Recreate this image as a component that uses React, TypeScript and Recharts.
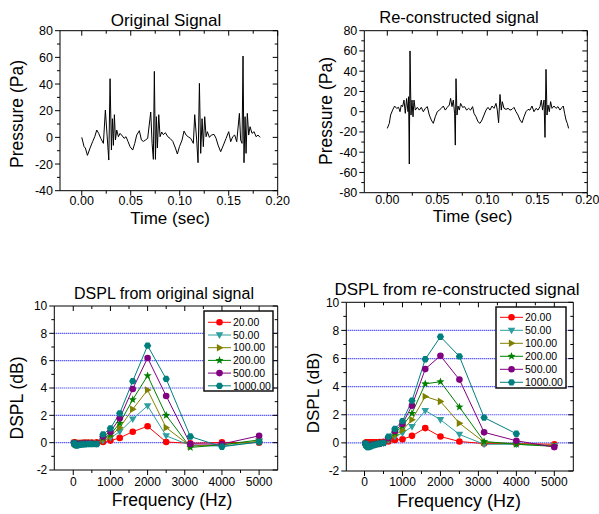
import React from "react";
import { LineChart, Line, XAxis, YAxis, ReferenceLine } from "recharts";

const FONT = "'Liberation Sans', Arial, Helvetica, sans-serif";

// ---- pressure signals
const origTime = [
  0, 0.0024, 0.0037, 0.0058, 0.0085, 0.0112, 0.0133, 0.0153, 0.0173, 0.0194,
  0.0221, 0.0241, 0.0262, 0.0276, 0.0289, 0.0303, 0.0313, 0.0323, 0.0333, 0.0344,
  0.0357, 0.0374, 0.0391, 0.0415, 0.0432, 0.0452, 0.0473, 0.0493, 0.052, 0.0541,
  0.0561, 0.0588, 0.0609, 0.0629, 0.065, 0.0673, 0.0704, 0.0718, 0.0731, 0.0741,
  0.0752, 0.0762, 0.0772, 0.0786, 0.0799, 0.0816, 0.0833, 0.0854, 0.0878, 0.0901,
  0.0929, 0.0956, 0.0976, 0.0997, 0.1024, 0.1044, 0.1065, 0.1085, 0.1112, 0.1139,
  0.1153, 0.1173, 0.1187, 0.1201, 0.1214, 0.1228, 0.1241, 0.1255, 0.1269, 0.1282,
  0.1303, 0.1323, 0.135, 0.1371, 0.1391, 0.1418, 0.1446, 0.1473, 0.15, 0.152,
  0.1541, 0.1561, 0.1582, 0.1609, 0.1622, 0.1636, 0.1646, 0.1656, 0.1667, 0.1677,
  0.169, 0.1704, 0.1718, 0.1738, 0.1759, 0.1779, 0.1799, 0.182,
];
const origPressure = [
  0, -7, -8, -13.5, -8, -3, 0.5, 5.5, 3, -0.75,
  -4.5, 20.5, -2, -17, 44, -9.5, 14, -6, 17, -2,
  5.5, 0.5, 3, 1, -0.75, 0.5, -3.25, -7, -9.5, -4.5,
  1.75, 5, -2, -3, -2, -0.75, 19, -4.5, -16.5, 49.5,
  -16.5, 15.5, -8, 17, 0.5, 4, 2, 3.5, 0.5, -0.75,
  -3, -8, -12.5, -7, -2, 4.75, 1.75, 0.5, -0.75, -4.5,
  17, -2, -19, 40.5, -12, 14, -7, 15.5, 0.5, 4.25,
  0, 1.75, 2.25, -0.75, -5.75, -10.75, -5.75, -0.75, 4.25, -3.25,
  0.5, 1.75, -3.25, 18, -2, -4.5, 61, -19, 15.5, -12,
  18, 1.75, 8, 3, 4.25, 0.5, 1.75, 0,
];

const reconTime = [
  0, 0.002, 0.0033, 0.0053, 0.0073, 0.0093, 0.0113, 0.0127, 0.014, 0.0153,
  0.0167, 0.018, 0.0193, 0.0207, 0.0213, 0.022, 0.0227, 0.0237, 0.0247, 0.0257,
  0.0267, 0.028, 0.03, 0.032, 0.034, 0.036, 0.038, 0.04, 0.042, 0.044,
  0.046, 0.048, 0.05, 0.052, 0.054, 0.056, 0.058, 0.06, 0.062, 0.0633,
  0.0647, 0.066, 0.0673, 0.068, 0.0687, 0.0697, 0.0707, 0.072, 0.0733, 0.0753,
  0.0773, 0.0793, 0.0813, 0.0833, 0.0853, 0.0867, 0.0887, 0.0907, 0.0927, 0.0947,
  0.0967, 0.0987, 0.1007, 0.1027, 0.1047, 0.1067, 0.1087, 0.11, 0.1113, 0.1127,
  0.114, 0.115, 0.1167, 0.1187, 0.1207, 0.1227, 0.1247, 0.1267, 0.1287, 0.1307,
  0.1327, 0.1347, 0.1367, 0.1387, 0.1407, 0.1427, 0.1447, 0.1467, 0.1487, 0.1507,
  0.1527, 0.154, 0.1553, 0.1567, 0.1577, 0.1587, 0.1597, 0.1607, 0.162, 0.1633,
  0.1647, 0.1667, 0.1687, 0.1707, 0.1727, 0.1747, 0.176, 0.1773, 0.1787, 0.18,
  0.1813,
];
const reconPressure = [
  -16.5, -11.5, -3.3, 1.6, 5.6, 3.3, 4.3, 0, 6.6, 5,
  11.5, -1.6, 13, 0, 14.8, -51.7, 60, -3.3, 11.5, -5,
  11.5, 1.6, 4.3, 1.6, 4.3, 0, 3.3, 5, -3.3, -8.2,
  -11.5, -5, 0, 1.6, 3.3, 5.6, 1.6, 4.3, 6.6, 13.2,
  5, 11.5, -1.6, -33, 32.6, -3.3, 5.6, 1.6, 8.2, 4.3,
  5, 1.6, 3.3, 1.6, 5, -1.6, -5, -9.9, -11.5, -8.2,
  -3.3, 1.6, 4.3, 1.6, 5.6, 3.3, 8.2, 1.6, -10.9, 17,
  1.6, 9.9, 3.3, 2.3, 3.3, 1.6, 2.3, 4.3, 0, -3.3,
  -8.2, -10.9, -5, 0, 2.3, 1.6, 5.6, 0, 3.3, 1.6,
  5, 11.5, 1.6, 11.5, -25.4, 41.8, -3.3, 6.6, 0, 9.9,
  3.3, 5.6, 3.3, 5, 1.6, 4.3, 5.6, -1.6, -8.2, -11.5,
  -16.5,
];

const timeTicks = [0, 0.05, 0.1, 0.15, 0.2];
const timeMinor = [0.025, 0.075, 0.125, 0.175];
const origPTicks = [-40, -20, 0, 20, 40, 60, 80];
const origPMinor = [-30, -10, 10, 30, 50, 70];
const reconPTicks = [-80, -60, -40, -20, 0, 20, 40, 60, 80];
const reconPMinor = [-70, -50, -30, -10, 10, 30, 50, 70];

// ---- DSPL spectra (1/3 octave bands)
const freqs = [
  25, 31.5, 40, 50, 63, 80, 100, 125, 160, 200, 250, 315, 400, 500, 630,
  800, 1000, 1250, 1600, 2000, 2500, 3150, 4000, 5000,
];
const freqTicks = [0, 1000, 2000, 3000, 4000, 5000];
const freqMinor = [500, 1500, 2500, 3500, 4500];
const dsplTicks = [-2, 0, 2, 4, 6, 8, 10];
const dsplMinor = [-1, 1, 3, 5, 7, 9];
const gridLevels = [0, 2, 4, 6, 8];

const legendLabels = ["20.00", "50.00", "100.00", "200.00", "500.00", "1000.00"];
const seriesColors = ["#ff0000", "#2f9e9e", "#808000", "#008000", "#800080", "#007f7f"];
const seriesShapes = ["circle", "down", "right", "star", "circle", "hex"];

const orig20 = [0, 0, -0.01, -0.01, -0.02, -0.02, -0.03, -0.03, -0.02, -0.02, -0.01, 0, 0, 0, 0.02, 0.05, 0.15, 0.35, 0.8, 1.2, 0.05, -0.05, 0.02, 0];
const orig50 = [-0.03, -0.05, -0.08, -0.1, -0.12, -0.13, -0.13, -0.12, -0.1, -0.09, -0.08, -0.07, -0.06, -0.06, -0.08, 0.15, 0.35, 0.8, 1.73, 2.7, 0.5, -0.2, -0.25, 0.05];
const orig100 = [-0.02, -0.04, -0.06, -0.08, -0.1, -0.11, -0.11, -0.1, -0.09, -0.08, -0.07, -0.06, -0.05, -0.05, -0.07, 0.25, 0.5, 1.1, 2.45, 3.85, 1.1, -0.25, -0.15, 0.1];
const orig200 = [-0.02, -0.04, -0.06, -0.08, -0.1, -0.11, -0.11, -0.1, -0.09, -0.08, -0.07, -0.06, -0.05, -0.05, -0.07, 0.35, 0.6, 1.42, 3.15, 4.9, 2.0, -0.35, -0.15, 0.2];
const orig500 = [-0.03, -0.05, -0.07, -0.09, -0.11, -0.12, -0.12, -0.11, -0.1, -0.09, -0.08, -0.07, -0.06, -0.06, -0.08, 0.45, 0.8, 1.78, 3.93, 6.2, 3.42, -0.1, -0.1, 0.5];
const orig1000 = [-0.05, -0.08, -0.12, -0.15, -0.18, -0.2, -0.2, -0.18, -0.16, -0.15, -0.13, -0.12, -0.11, -0.1, -0.1, 0.6, 1.05, 2.15, 4.5, 7.1, 4.66, 0.45, -0.3, 0.05];

const recon20 = [0, 0, 0.01, 0.01, 0.02, 0.02, 0.03, 0.03, 0.04, 0.04, 0.05, 0.05, 0.06, 0.07, 0.1, 0.2, 0.25, 0.5, 1.05, 0.45, 0.1, -0.05, -0.05, -0.1];
const recon50 = [-0.05, -0.08, -0.12, -0.15, -0.18, -0.2, -0.22, -0.2, -0.18, -0.15, -0.12, -0.1, -0.06, -0.02, 0.2, 0.45, 0.7, 1.15, 2.3, 1.65, 0.6, -0.1, -0.1, -0.2];
const recon100 = [-0.04, -0.07, -0.1, -0.13, -0.16, -0.18, -0.2, -0.18, -0.16, -0.13, -0.1, -0.08, -0.05, -0.01, 0.25, 0.55, 0.9, 1.65, 3.3, 2.95, 1.4, 0.05, -0.05, -0.2];
const recon200 = [-0.04, -0.07, -0.1, -0.13, -0.16, -0.18, -0.2, -0.18, -0.16, -0.13, -0.1, -0.08, -0.05, -0.01, 0.3, 0.7, 1.2, 2.1, 4.2, 4.35, 2.55, 0.1, -0.1, -0.25];
const recon500 = [-0.05, -0.08, -0.11, -0.14, -0.17, -0.2, -0.22, -0.2, -0.17, -0.14, -0.11, -0.08, -0.05, 0, 0.35, 0.85, 1.35, 2.65, 5.25, 6.2, 4.5, 0.75, 0.15, -0.3];
const recon1000 = [-0.05, -0.1, -0.15, -0.2, -0.25, -0.3, -0.3, -0.28, -0.25, -0.2, -0.15, -0.1, -0.05, 0, 0.45, 1.0, 1.55, 3.0, 5.95, 7.55, 6.15, 1.8, 0.65, null];

const origSeries = [orig20, orig50, orig100, orig200, orig500, orig1000];
const reconSeries = [recon20, recon50, recon100, recon200, recon500, recon1000];

const signalRows = (t: number[], p: number[]) => t.map((v, i) => ({ t: v, p: p[i] }));
const spectrumRows = (series: (number | null)[][]) =>
  freqs.map((f, i) => {
    const row: any = { f };
    series.forEach((s, k) => (row["s" + k] = s[i]));
    return row;
  });

type Spec = { key: string; domain: [number, number]; major: number[]; minor: number[]; fmt: (v: number) => string };

// one tick renderer per side: long major ticks with labels, short minor ones
const sideTick = (side: string, spec: Spec, fontSize: number, gap: number) => (props: any) => {
  const { x, y, payload } = props;
  const v = payload.value;
  const major = spec.major.includes(v);
  const len = major ? 5 : 3;
  const k = `${side}-${v}`;
  if (side === "bottom")
    return (
      <g key={k}>
        <line x1={x} x2={x} y1={y} y2={y + len} stroke="#000" />
        {major && (
          <text x={x} y={y + gap} textAnchor="middle" fontSize={fontSize} fontFamily={FONT} fill="#000">
            {spec.fmt(v)}
          </text>
        )}
      </g>
    );
  if (side === "left")
    return (
      <g key={k}>
        <line x1={x - len} x2={x} y1={y} y2={y} stroke="#000" />
        {major && (
          <text x={x - 7} y={y} dy="0.36em" textAnchor="end" fontSize={fontSize} fontFamily={FONT} fill="#000">
            {spec.fmt(v)}
          </text>
        )}
      </g>
    );
  if (side === "top") return <line key={k} x1={x} x2={x} y1={y} y2={y + len} stroke="#000" />;
  return <line key={k} x1={x - len} x2={x} y1={y} y2={y} stroke="#000" />;
};

function frameAxes(x: Spec, y: Spec, fontSize: number, gap: number) {
  const base = {
    type: "number" as const,
    allowDataOverflow: true,
    interval: 0 as const,
    stroke: "#000",
    tickSize: 0,
    tickMargin: 0,
    tickLine: false,
  };
  const xt = [...x.major, ...x.minor];
  const yt = [...y.major, ...y.minor];
  return [
    <XAxis key="xb" xAxisId="main" dataKey={x.key} {...base} domain={x.domain} ticks={xt} height={1} tick={sideTick("bottom", x, fontSize, gap)} />,
    <XAxis key="xt" xAxisId="top" dataKey={x.key} {...base} orientation="top" domain={x.domain} ticks={xt} height={1} tick={sideTick("top", x, fontSize, gap)} />,
    <YAxis key="yl" yAxisId="main" {...base} domain={y.domain} ticks={yt} width={1} tick={sideTick("left", y, fontSize, gap)} />,
    <YAxis key="yr" yAxisId="right" {...base} orientation="right" domain={y.domain} ticks={yt} width={1} tick={sideTick("right", y, fontSize, gap)} />,
  ];
}

function Marker({ shape, cx, cy, color }: { shape: string; cx: number; cy: number; color: string }) {
  const r = 3.3;
  if (shape === "circle") return <circle cx={cx} cy={cy} r={r} fill={color} />;
  let pts: number[][] = [];
  if (shape === "down") pts = [[cx - r * 1.15, cy - r * 0.8], [cx + r * 1.15, cy - r * 0.8], [cx, cy + r * 1.2]];
  if (shape === "right") pts = [[cx - r * 0.8, cy - r * 1.15], [cx - r * 0.8, cy + r * 1.15], [cx + r * 1.2, cy]];
  if (shape === "star")
    pts = Array.from({ length: 10 }, (_, k) => {
      const a = -Math.PI / 2 + (k * Math.PI) / 5;
      const rr = k % 2 === 0 ? r * 1.3 : r * 0.55;
      return [cx + rr * Math.cos(a), cy + rr * Math.sin(a)];
    });
  if (shape === "hex")
    pts = Array.from({ length: 6 }, (_, k) => {
      const a = (k * Math.PI) / 3;
      return [cx + r * 1.1 * Math.cos(a), cy + r * 1.1 * Math.sin(a)];
    });
  return <polygon points={pts.map((p) => p.join(",")).join(" ")} fill={color} />;
}

function Txt({ x, y, size, rotate = 0, children }: any) {
  return (
    <div
      style={{
        position: "absolute",
        left: x,
        top: y,
        transform: `translate(-50%, -50%) rotate(${rotate}deg)`,
        fontSize: size,
        lineHeight: 1,
        whiteSpace: "nowrap",
        color: "#000",
      }}
    >
      {children}
    </div>
  );
}

// margins below are the plot box offsets minus the 1px axis bands
function SignalChart({ left, top, width, height, margin, rows, x, y, gap }: any) {
  return (
    <div style={{ position: "absolute", left, top }}>
      <LineChart width={width} height={height} data={rows} margin={margin}>
        {frameAxes(x, y, 12.5, gap)}
        <Line xAxisId="main" yAxisId="main" type="linear" dataKey="p" stroke="#000" strokeWidth={1} dot={false} activeDot={false} isAnimationActive={false} />
      </LineChart>
    </div>
  );
}

function DsplChart({ left, top, width, height, margin, rows, xDomain, gap }: any) {
  const x: Spec = { key: "f", domain: xDomain, major: freqTicks, minor: freqMinor, fmt: (v) => String(v) };
  const y: Spec = { key: "", domain: [-2, 10], major: dsplTicks, minor: dsplMinor, fmt: (v) => String(v) };
  return (
    <div style={{ position: "absolute", left, top }}>
      <LineChart width={width} height={height} data={rows} margin={margin}>
        {frameAxes(x, y, 12, gap)}
        {gridLevels.map((v) => (
          <ReferenceLine key={v} xAxisId="main" yAxisId="main" y={v} stroke="#1a1aff" strokeWidth={1.2} strokeDasharray="1 1" />
        ))}
        {legendLabels.map((lab, k) => (
          <Line
            key={lab}
            xAxisId="main"
            yAxisId="main"
            type="linear"
            dataKey={"s" + k}
            stroke={seriesColors[k]}
            strokeWidth={1}
            activeDot={false}
            isAnimationActive={false}
            dot={(p: any) =>
              p.cx == null || p.value == null ? (
                <g key={k + "-" + p.index} />
              ) : (
                <Marker key={k + "-" + p.index} shape={seriesShapes[k]} cx={p.cx} cy={p.cy} color={seriesColors[k]} />
              )
            }
          />
        ))}
      </LineChart>
    </div>
  );
}

function SeriesLegend({ left, top, w, h, first, step }: any) {
  return (
    <svg style={{ position: "absolute", left, top }} width={w + 2} height={h + 2}>
      <rect x={1} y={1} width={w} height={h} fill="#fff" stroke="#111" strokeWidth={1.5} />
      {legendLabels.map((lab, i) => {
        const cy = first + i * step;
        return (
          <g key={lab}>
            <line x1={5} x2={28} y1={cy} y2={cy} stroke={seriesColors[i]} strokeWidth={1} />
            <Marker shape={seriesShapes[i]} cx={16.5} cy={cy} color={seriesColors[i]} />
            <text x={30} y={cy} dy="0.36em" fontSize={10.5} fontFamily={FONT} fill="#000">
              {lab}
            </text>
          </g>
        );
      })}
    </svg>
  );
}

export default function App() {
  const timeX = (domain: [number, number]): Spec => ({ key: "t", domain, major: timeTicks, minor: timeMinor, fmt: (v) => v.toFixed(2) });
  return (
    <div
      style={{
        position: "absolute",
        left: 0,
        top: 0,
        width: 599,
        height: 514,
        background: "#fff",
        fontFamily: FONT,
        overflow: "hidden",
      }}
    >
      <SignalChart
        left={0}
        top={0}
        width={300}
        height={240}
        margin={{ left: 59, right: 21.3, top: 29.7, bottom: 48.3 }}
        rows={signalRows(origTime, origPressure)}
        x={timeX([-0.0222, 0.2])}
        y={{ key: "", domain: [-40, 80], major: origPTicks, minor: origPMinor, fmt: (v: number) => String(v) }}
        gap={14}
      />
      <SignalChart
        left={300}
        top={0}
        width={299}
        height={240}
        margin={{ left: 63.3, right: 10.7, top: 29.7, bottom: 46.3 }}
        rows={signalRows(reconTime, reconPressure)}
        x={timeX([-0.023, 0.2])}
        y={{ key: "", domain: [-80, 80], major: reconPTicks, minor: reconPMinor, fmt: (v: number) => String(v) }}
        gap={11}
      />
      <DsplChart
        left={0}
        top={270}
        width={300}
        height={244}
        margin={{ left: 53.3, right: 21.3, top: 35, bottom: 43 }}
        rows={spectrumRows(origSeries)}
        xDomain={[-510, 5500]}
        gap={15.5}
      />
      <DsplChart
        left={300}
        top={270}
        width={299}
        height={244}
        margin={{ left: 45.3, right: 24.7, top: 31.3, bottom: 42 }}
        rows={spectrumRows(reconSeries)}
        xDomain={[-480, 5500]}
        gap={15}
      />
      <SeriesLegend left={203} top={310} w={69} h={80} first={12.3} step={12.7} />
      <SeriesLegend left={495} top={306} w={70} h={81} first={11.3} step={13} />

      <Txt x={166} y={20} size={17}>Original Signal</Txt>
      <Txt x={18} y={114} size={17.5} rotate={-90}>Pressure (Pa)</Txt>
      <Txt x={170} y={217.5} size={17}>Time (sec)</Txt>

      <Txt x={459} y={16.5} size={16.5}>Re-constructed signal</Txt>
      <Txt x={326.7} y={111} size={17.5} rotate={-90}>Pressure (Pa)</Txt>
      <Txt x={472.5} y={216} size={17}>Time (sec)</Txt>

      <Txt x={164} y={294} size={16}>DSPL from original signal</Txt>
      <Txt x={18} y={397.5} size={17.5} rotate={-90}>DSPL (dB)</Txt>
      <Txt x={172} y={501} size={17.5}>Frequency (Hz)</Txt>

      <Txt x={457} y={289.3} size={17}>DSPL from re-constructed signal</Txt>
      <Txt x={313.3} y={392.5} size={17} rotate={-90}>DSPL (dB)</Txt>
      <Txt x={459} y={500.5} size={18}>Frequency (Hz)</Txt>
    </div>
  );
}
